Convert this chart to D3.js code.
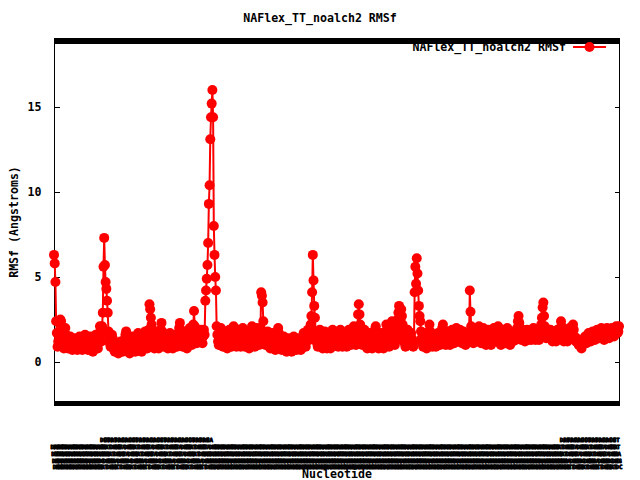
<!DOCTYPE html>
<html><head><meta charset="utf-8">
<script src="https://cdn.jsdelivr.net/npm/d3@7"></script>
<style>body{margin:0;background:#fff}</style>
</head><body><svg id="c" width="640" height="480"></svg>
<script>
const chartTitle = "NAFlex_TT_noalch2 RMSf";
const seriesName = "NAFlex_TT_noalch2 RMSf";
const xTitle = "Nucleotide";
const yTitle = "RMSf (Angstroms)";
const yTicks = [0, 5, 10, 15];
const sequence = "ATGCGTACCGATTAGCATGCAAGTCCGATGCTAGCTTAGC";

const rmsfA = [6.3,5.8,4.7,2.4,1.7,0.9,1.2,1.5,2.3,2.5, 2.4,1.9,1.4,1.0,0.8,1.1,2.0,1.6,1.2,0.9,
  0.8,1.0,1.3,1.5,1.2,0.9,0.7,0.8,1.1,1.4, 1.3,1.0,0.8,0.7,0.9,1.2,1.5,1.4,1.1,0.8,
  0.7,0.9,1.2,1.4,1.6,1.3,1.0,0.8,0.7,0.9, 1.3,1.5,1.2,0.9,0.7,0.6,0.8,1.1,1.4,1.6,
  1.3,1.0,0.8,1.2,1.7,2.1,1.6,1.2,2.1,2.9, 5.6,7.3,5.7,4.7,4.3,3.6,2.9,1.8,1.4,1.1,
  0.9,1.3,1.6,1.4,1.0,0.7,0.6,0.8,1.1,1.0, 0.7,0.5,0.6,0.9,1.2,1.0,0.8,0.6,0.7,1.0];
const rmsfB = [1.3,1.6,1.8,1.5,1.1,0.8,0.6,0.5,0.7,1.0, 1.2,1.5,1.3,1.0,0.7,0.6,0.8,1.1,1.4,1.7,
  1.5,1.2,0.9,0.7,0.6,0.8,1.0,1.3,1.6,1.8, 1.5,1.1,0.8,1.2,1.9,3.4,3.1,2.6,2.2,1.7,
  1.3,1.0,0.8,1.1,1.5,1.8,1.4,1.0,0.8,1.2, 1.6,1.9,2.3,1.8,1.3,1.0,0.9,1.2,1.5,1.3,
  1.0,0.8,1.1,1.4,1.7,1.5,1.2,0.9,0.8,1.0, 1.3,1.6,1.4,1.1,0.9,1.2,1.6,2.0,2.3,1.9,
  1.5,1.1,0.9,1.2,1.5,1.8,1.4,1.0,0.8,1.1, 1.4,1.7,2.0,1.6,1.2,1.0,1.3,2.2,3.0,2.1];
const rmsfC = [1.6,1.3,1.1,1.4,1.8,1.5,1.2,1.6,1.9,1.4, 1.1,1.5,1.9,1.6,3.6,4.2,4.9,5.7,7.0,9.3,
  10.4,13.1,14.4,15.2,16.0,14.4,8.0,6.3,5.0,4.2, 2.1,1.6,1.2,1.0,1.4,1.8,2.0,1.6,1.2,0.9,
  1.1,1.5,1.8,1.4,1.0,0.8,1.2,1.6,1.9,1.5, 1.1,0.9,1.3,1.7,2.1,1.8,1.3,1.0,0.9,1.2,
  1.6,1.9,1.5,1.1,0.9,1.2,1.7,2.0,1.6,1.2, 0.9,1.1,1.5,1.8,1.4,1.0,0.8,1.2,1.6,1.9,
  2.1,1.7,1.3,1.0,0.9,1.3,1.7,2.0,1.6,1.2, 1.0,1.4,2.0,4.1,3.9,3.5,2.4,1.6,1.2,1.0];
const rmsfD = [1.2,1.5,1.8,1.5,1.1,0.9,0.8,1.1,1.4,1.7, 1.4,1.0,0.8,0.7,0.9,1.2,1.6,2.0,1.7,1.3,
  1.0,0.8,0.7,0.9,1.2,1.5,1.3,1.0,0.7,0.6, 0.8,1.1,1.4,1.2,0.9,0.7,0.6,0.8,1.1,1.5,
  1.3,1.0,0.8,0.7,0.9,1.2,1.4,1.1,0.8,0.7, 0.8,1.1,1.4,1.7,1.4,1.1,0.9,1.2,1.6,1.9,
  1.6,1.3,1.7,2.2,2.7,4.1,6.3,4.8,3.3,2.6, 1.8,1.4,1.1,0.9,1.2,1.6,1.9,1.5,1.1,0.9,
  0.8,1.1,1.5,1.8,1.4,1.0,0.8,1.2,1.6,1.3, 1.0,0.8,1.1,1.5,1.9,1.6,1.2,1.0,1.3,1.7];
const rmsfE = [1.4,1.1,0.9,1.2,1.6,1.9,1.5,1.2,0.9,1.1, 1.4,1.7,1.4,1.1,0.9,1.2,1.6,1.9,1.6,1.3,
  1.0,1.2,1.5,1.8,2.1,1.7,1.3,1.0,1.4,2.0, 2.8,3.4,2.8,2.2,1.7,1.3,1.0,1.2,1.6,1.9,
  1.5,1.2,0.9,0.8,1.1,1.4,1.7,1.4,1.1,0.9, 0.8,1.0,1.3,1.6,1.9,2.1,1.7,1.3,1.0,0.8,
  1.0,1.3,1.7,1.5,1.2,0.9,0.8,1.1,1.4,1.8, 2.2,1.8,1.4,1.1,0.9,1.2,1.6,2.0,2.4,2.1,
  1.7,1.3,1.0,1.2,1.6,2.0,2.5,2.9,3.3,2.9, 2.5,3.1,2.7,2.2,1.8,1.4,1.1,0.9,1.2,1.6];
const rmsfF = [1.9,1.5,1.2,1.0,1.3,1.7,1.4,1.1,0.9,1.2, 4.1,5.6,4.6,6.1,5.2,4.2,3.3,2.7,2.4,1.8,
  1.4,1.1,0.9,1.2,1.5,1.3,1.0,0.8,1.1,1.5, 1.8,2.2,1.8,1.4,1.1,0.9,1.2,1.6,1.4,1.1,
  0.9,1.0,1.3,1.7,1.5,1.2,1.0,1.3,1.7,2.0, 2.2,1.9,1.5,1.2,1.0,1.2,1.5,1.8,1.5,1.2,
  1.0,1.3,1.6,1.9,1.6,1.3,1.1,1.4,1.8,2.0, 1.7,1.4,1.2,1.5,1.9,1.6,1.3,1.1,1.4,1.8,
  1.5,1.2,1.0,1.3,1.7,1.5,1.3,1.6,4.2,2.95, 2.1,1.6,1.3,1.1,1.4,1.8,1.5,1.2,1.4,1.7];
const rmsfG = [1.9,2.1,1.8,1.4,1.1,1.3,1.7,2.0,1.7,1.4, 1.1,1.0,1.3,1.6,1.9,1.6,1.3,1.1,1.0,1.2,
  1.5,1.8,2.0,1.7,1.4,1.2,1.5,1.8,2.1,1.8, 1.5,1.2,1.0,1.3,1.6,1.9,1.6,1.3,1.1,1.4,
  1.7,2.0,1.7,1.4,1.2,1.0,1.3,1.6,1.4,1.2, 1.5,1.8,1.6,1.3,1.5,2.0,2.4,2.7,2.3,1.8,
  1.5,1.3,1.6,1.9,1.7,1.4,1.2,1.5,1.8,1.9, 1.6,1.3,1.5,1.8,1.6,1.3,1.4,1.7,2.0,1.8,
  1.5,1.3,1.6,1.9,1.7,1.4,1.3,1.6,1.9,2.2, 2.6,3.2,3.5,2.7,2.1,1.7,1.4,1.6,1.9,1.7];
const rmsfH = [1.4,1.6,1.9,1.7,1.4,1.2,1.5,1.8,1.6,1.3, 1.2,1.5,1.9,1.7,1.4,1.6,2.0,2.4,2.1,1.7,
  1.4,1.2,1.5,1.8,1.6,1.3,1.2,1.5,1.8,2.0, 1.7,1.4,1.6,2.0,2.2,1.9,1.5,1.3,1.2,1.4,
  1.3,1.1,1.0,1.2,1.1,0.9,0.8,1.0,1.2,1.1, 1.3,1.5,1.3,1.1,1.2,1.5,1.7,1.5,1.3,1.2,
  1.4,1.6,1.8,1.6,1.4,1.3,1.5,1.7,1.9,1.7, 1.5,1.4,1.6,1.8,2.0,1.8,1.6,1.4,1.3,1.5,
  1.7,1.9,2.0,1.8,1.6,1.4,1.5,1.7,1.9,2.0, 1.8,1.6,1.5,1.7,1.9,2.1,1.9,1.7,1.8,2.1];

const values = [].concat(rmsfA, rmsfB, rmsfC, rmsfD, rmsfE, rmsfF, rmsfG, rmsfH);
const N = values.length;
const tickLabels = d3.range(N).map(i => "D" + sequence[i % sequence.length]);

const font = "'DejaVu Sans Mono', 'Liberation Mono', monospace";
const svg = d3.select("#c");
const L = 54, R = 619, T = 38, B = 406;
const x = d3.scaleLinear().domain([0, N - 1]).range([L, R]);
const y = d3.scaleLinear().domain([-2.59, 19.06]).range([B, T]);

svg.append("rect").attr("width", 640).attr("height", 480).attr("fill", "#fff");

// frame
svg.append("rect").attr("x", L + 0.5).attr("y", T + 0.5).attr("width", R - L).attr("height", B - T - 1)
  .attr("fill", "none").attr("stroke", "#000").attr("stroke-width", 1).attr("shape-rendering", "crispEdges");

// x ticks (bottom and top, inward)
const xb = svg.append("g").attr("transform", `translate(0,${B - 0.5})`)
  .call(d3.axisBottom(x).tickValues(d3.range(N)).tickSizeInner(-5).tickSizeOuter(0).tickFormat(""));
const xt = svg.append("g").attr("transform", `translate(0,${T + 0.5})`)
  .call(d3.axisTop(x).tickValues(d3.range(N)).tickSizeInner(-5).tickSizeOuter(0).tickFormat(""));
[xb, xt].forEach(g => { g.select(".domain").remove(); g.selectAll("line").attr("stroke", "#000").attr("shape-rendering", "crispEdges"); });

// y ticks left & right
const yl = svg.append("g").attr("transform", `translate(${L + 0.5},0)`)
  .call(d3.axisLeft(y).tickValues(yTicks).tickSizeInner(-5).tickSizeOuter(0).tickPadding(13));
const yr = svg.append("g").attr("transform", `translate(${R + 0.5},0)`)
  .call(d3.axisRight(y).tickValues(yTicks).tickSizeInner(-5).tickSizeOuter(0).tickFormat(""));
[yl, yr].forEach(g => { g.select(".domain").remove(); g.selectAll("line").attr("stroke", "#000").attr("shape-rendering", "crispEdges"); });
yl.selectAll("text").attr("font-family", font).attr("font-weight", "bold").attr("font-size", 11.6).attr("fill", "#000");

// x tick labels: one per nucleotide, densely overlapping in rows as in the reference
const rowY = [442.3, 449.3, 456.3, 462.8, 469.3];
const topRanges = [[68, 222], [720, N - 1]];
const lab = svg.append("g").attr("font-family", font).attr("font-weight", "bold").attr("font-size", 5.8)
  .attr("text-anchor", "middle").attr("fill", "#000")
  .attr("stroke", "#000").attr("stroke-width", 0.8).attr("stroke-linejoin", "round");
d3.range(N).forEach(i => {
  const inTop = topRanges.some(r => i >= r[0] && i <= r[1]) && i % 5 === 0;
  const row = inTop ? 0 : 1 + (i % 4);
  lab.append("text").attr("x", x(i)).attr("y", rowY[row]).text(tickLabels[i]);
});

// data
svg.append("path").datum(values)
  .attr("d", d3.line().x((d, i) => x(i)).y(d => y(d)))
  .attr("fill", "none").attr("stroke", "#ff0000").attr("stroke-width", 2);
svg.append("g").selectAll("circle").data(values).join("circle")
  .attr("cx", (d, i) => x(i)).attr("cy", d => y(d)).attr("r", 5).attr("fill", "#ff0000");

// titles
svg.append("text").attr("x", 320).attr("y", 22).attr("text-anchor", "middle")
  .attr("font-family", font).attr("font-weight", "bold").attr("font-size", 11.6).text(chartTitle);
svg.append("text").attr("x", 337).attr("y", 478).attr("text-anchor", "middle")
  .attr("font-family", font).attr("font-weight", "bold").attr("font-size", 11.6).text(xTitle);
svg.append("text").attr("transform", "translate(18,222) rotate(-90)").attr("text-anchor", "middle")
  .attr("font-family", font).attr("font-weight", "bold").attr("font-size", 11.6).text(yTitle);

// legend
svg.append("text").attr("x", 566).attr("y", 51).attr("text-anchor", "end")
  .attr("font-family", font).attr("font-weight", "bold").attr("font-size", 11.6).text(seriesName);
svg.append("line").attr("x1", 573).attr("x2", 606).attr("y1", 47).attr("y2", 47)
  .attr("stroke", "#ff0000").attr("stroke-width", 2);
svg.append("circle").attr("cx", 589.5).attr("cy", 47).attr("r", 5).attr("fill", "#ff0000");
</script></body></html>
